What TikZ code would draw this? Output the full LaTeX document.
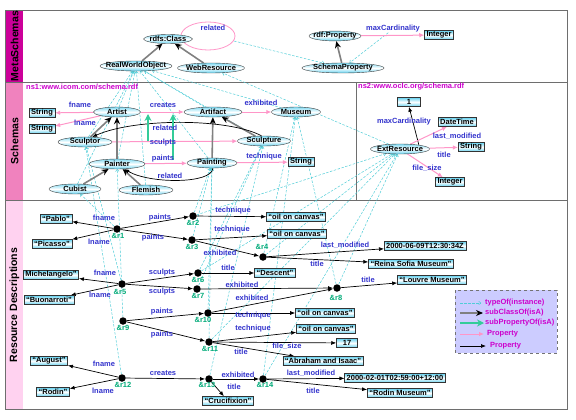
\documentclass[tikz,border=0pt]{standalone}
\usepackage{fontspec}
\setmainfont{Liberation Sans}
\usetikzlibrary{shapes.geometric,arrows.meta}
\pgfdeclarelayer{bg}
\pgfsetlayers{bg,main}
\definecolor{lblue}{RGB}{51,51,204}
\definecolor{rgreen}{RGB}{0,170,120}
\definecolor{mag}{RGB}{204,0,204}
\definecolor{ppink}{RGB}{255,150,200}
\definecolor{sgreen}{RGB}{51,204,153}
\definecolor{tcyan}{RGB}{80,205,215}
\definecolor{cyanA}{RGB}{100,210,240}
\definecolor{cyanB}{RGB}{100,210,240}
\definecolor{barM}{RGB}{204,0,153}
\definecolor{barS}{RGB}{240,130,190}
\definecolor{barR}{RGB}{255,210,240}
\definecolor{legf}{RGB}{204,204,255}
\definecolor{frm}{RGB}{110,110,110}
\newcommand\cz[1]{\makebox[0pt]{#1}}
\tikzset{
 every node/.style={font=\bfseries\fontsize{7.5}{9}\selectfont},
 cls/.style={ellipse, draw=black!75, line width=0.4pt, top color=cyanA!80, bottom color=cyanA, middle color=white, inner sep=0pt, minimum height=10pt},
 lit/.style={rectangle, draw=black!80, line width=0.5pt, top color=cyanB, bottom color=cyanB, middle color=white, inner xsep=2pt, inner ysep=0pt, minimum height=9pt},
 inst/.style={circle, fill=black, inner sep=0pt, minimum size=7.5pt},
 lbl/.style={text=lblue, inner sep=0pt},
 rl/.style={text=rgreen, inner sep=0pt},
 sect/.style={rotate=90, font=\bfseries\fontsize{10.5}{12}\selectfont, inner sep=0pt},
 ns/.style={text=mag, anchor=west, inner sep=0pt},
 leg/.style={text=mag, anchor=west, inner sep=0pt},
 prop/.style={-{Latex[length=5pt,width=4pt]}, line width=0.7pt, draw=black},
 pprop/.style={-{Latex[length=5pt,width=4.5pt]}, line width=1pt, draw=ppink},
 isa/.style={-{Stealth[length=7pt,width=6pt,color=black]}, line width=1.6pt, draw=black!50},
 subp/.style={-{Stealth[length=7pt,width=7pt]}, line width=2pt, draw=sgreen},
 typ/.style={-{To[length=2.5pt,width=4pt]}, dash pattern=on 2.5pt off 1.5pt, line width=0.5pt, draw=tcyan},
 frame/.style={draw=frm, line width=0.8pt}
}
\begin{document}
\begin{tikzpicture}[x=1pt,y=-1pt]
\useasboundingbox (0,0) rectangle (576,420);

% ---------- section labels
\node[sect] (sM) at (14.5,46) {MetaSchemas};
\node[sect] (sS) at (14.5,141) {Schemas};
\node[sect] (sR) at (14.5,305) {Resource Descriptions};
\node[ns] (ns1) at (26,87) {ns1:www.icom.com/schema.rdf};
\node[ns] (ns2) at (358,87) {ns2:www.oclc.org/schema.rdf};

% ---------- MetaSchemas
\node[cls, minimum width=49, minimum height=9] (rdfs) at (168,39) {\cz{rdfs:Class}};
\node[cls, minimum width=72] (rwo) at (136,66) {\cz{RealWorldObject}};
\node[cls, minimum width=67] (web) at (211,68) {\cz{WebResource}};
\node[cls, minimum width=52, minimum height=9] (rdfp) at (335,36) {\cz{rdf:Property}};
\node[cls, minimum width=82] (sprop) at (343,68) {\cz{SchemaProperty}};
\node[lit] (mint) at (439,35) {Integer};
\node[lbl] (lmc) at (393,29) {maxCardinality};
\node[lbl] (lrel) at (213,28) {related};
\coordinate (loopE) at (234,41);

% ---------- Schemas ns1
\node[cls, minimum width=47] (artist) at (117,112) {\cz{Artist}};
\node[lit] (str1) at (42,113) {String};
\node[lit] (str2) at (42,129) {String};
\node[cls, minimum width=54] (sculptor) at (85,142) {\cz{Sculptor}};
\node[cls, minimum width=56] (painter) at (117,164) {\cz{Painter}};
\node[cls, minimum width=52] (cubist) at (75,189) {\cz{Cubist}};
\node[cls, minimum width=54] (flemish) at (146,190) {\cz{Flemish}};
\node[cls, minimum width=58] (artifact) at (213,112) {\cz{Artifact}};
\node[cls, minimum width=49] (museum) at (296,112) {\cz{Museum}};
\node[cls, minimum width=53] (sculpture) at (264,141) {\cz{Sculpture}};
\node[cls, minimum width=50] (painting) at (212,163) {\cz{Painting}};
\node[lit] (str3) at (301,162) {String};

\node[lbl] (l1) at (80,105) {fname};
\node[lbl] (l2) at (85,123) {lname};
\node[lbl] (l3) at (163,105) {creates};
\node[lbl] (l4) at (261,103) {exhibited};
\node[lbl] (l5) at (165,128) {related};
\node[lbl] (l6) at (163,143) {sculpts};
\node[lbl] (l7) at (163,159) {paints};
\node[lbl] (l8) at (170,176) {related};
\node[lbl] (l9) at (264,157) {technique};

\coordinate (sp1a) at (148,141);
\coordinate (sp1b) at (148,114);
\coordinate (sp2a) at (173,160);
\coordinate (sp2b) at (173,114);

% ---------- Schemas ns2
\node[lit, minimum width=23] (one) at (409,102) {1};
\node[lit] (dtime) at (457,122) {DateTime};
\node[lit] (str4) at (471,147) {String};
\node[lit] (int2) at (450,182) {Integer};
\node[cls, minimum width=59] (ext) at (400,149) {\cz{ExtResource}};
\node[lbl] (l10) at (404,122) {maxCardinality};
\node[lbl] (l11) at (457,136) {last\_modified};
\node[lbl] (l12) at (444,155) {title};
\node[lbl] (l13) at (427,168) {file\_size};

% ---------- Resource Descriptions
\node[lit] (pablo) at (56,219) {“Pablo”};
\node[lit] (picasso) at (52,244) {“Picasso”};
\node[lit] (michel) at (51,275) {Michelangelo”};
\node[lit] (buon) at (49,300) {“Buonarroti”};
\node[lit] (oil1) at (296,217) {“oil on canvas”};
\node[lit] (oil2) at (297,234) {“oil on canvas”};
\node[lit] (date1) at (425,246) {2000-06-09T12:30:34Z};
\node[lit] (reina) at (411,264) {“Reina Sofia Museum”};
\node[lit] (louvre) at (432,280) {“Louvre Museum”};
\node[lit] (descent) at (275,273) {“Descent”};
\node[lit] (oil3) at (325,313) {“oil on canvas”};
\node[lit] (oil4) at (326,329) {“oil on canvas”};
\node[lit, minimum width=21] (n17) at (347,343) {17};
\node[lit] (abraham) at (323,361) {“Abraham and Isaac”};
\node[lit] (august) at (49,361) {“August”};
\node[lit] (rodin) at (53,392) {“Rodin”};
\node[lit] (cruc) at (228,401) {“Crucifixion”};
\node[lit] (date2) at (395,378) {2000-02-01T02:59:00+12:00};
\node[lit] (rmus) at (400,393) {“Rodin Museum”};

\node[inst] (r1) at (117,229) {};
\node[inst] (r2) at (193,216) {};
\node[inst] (r3) at (192,240) {};
\node[inst] (r4) at (263,257) {};
\node[inst] (r5) at (122,284) {};
\node[inst] (r6) at (198,273) {};
\node[inst] (r7) at (197,289) {};
\node[inst] (r8) at (337,288) {};
\node[inst] (r9) at (123,321) {};
\node[inst] (r10) at (208,313) {};
\node[inst] (r11) at (209,342) {};
\node[inst] (r12) at (122,378) {};
\node[inst] (r13) at (209,379) {};
\node[inst] (r14) at (263,379) {};

\node[rl] (t1) at (118,236) {\&r1};
\node[rl] (t2) at (193,223) {\&r2};
\node[rl] (t3) at (192,247) {\&r3};
\node[rl] (t4) at (262,247) {\&r4};
\node[rl] (t5) at (120,292) {\&r5};
\node[rl] (t6) at (198,280) {\&r6};
\node[rl] (t7) at (198,296) {\&r7};
\node[rl] (t8) at (336,298) {\&r8};
\node[rl] (t9) at (123,328) {\&r9};
\node[rl] (t10) at (203,320) {\&r10};
\node[rl] (t11) at (210,349) {\&r11};
\node[rl] (t12) at (123,385) {\&r12};
\node[rl] (t13) at (207,385) {\&r13};
\node[rl] (t14) at (265,385) {\&r14};

\node[lbl] (m1) at (104,218) {fname};
\node[lbl] (m2) at (99,242) {lname};
\node[lbl] (m3) at (160,218) {paints};
\node[lbl] (m4) at (153,238) {paints};
\node[lbl] (m5) at (233,211) {technique};
\node[lbl] (m6) at (232,230) {technique};
\node[lbl] (m7) at (220,253) {exhibited};
\node[lbl] (m8) at (345,245) {last\_modified};
\node[lbl] (m9) at (317,264) {title};
\node[lbl] (m10) at (105,273) {fname};
\node[lbl] (m11) at (100,295) {lname};
\node[lbl] (m12) at (162,273) {sculpts};
\node[lbl] (m13) at (162,292) {sculpts};
\node[lbl] (m14) at (228,268) {title};
\node[lbl] (m15) at (242,285) {exhibited};
\node[lbl] (m16) at (252,298) {exhibited};
\node[lbl] (m17) at (368,280) {title};
\node[lbl] (m18) at (162,312) {paints};
\node[lbl] (m19) at (162,335) {paints};
\node[lbl] (m20) at (253,316) {technique};
\node[lbl] (m21) at (253,329) {technique};
\node[lbl] (m22) at (287,346) {file\_size};
\node[lbl] (m23) at (241,352) {title};
\node[lbl] (m24) at (104,364) {fname};
\node[lbl] (m25) at (103,391) {lname};
\node[lbl] (m26) at (163,373) {creates};
\node[lbl] (m27) at (238,375) {exhibited};
\node[lbl] (m28) at (234,387) {title};
\node[lbl] (m29) at (311,373) {last\_modified};
\node[lbl] (m30) at (313,391) {title};

% ---------- legend
\node[leg] (g1) at (485,303) {typeOf(instance)};
\node[leg] (g2) at (485,313) {subClassOf(isA)};
\node[leg] (g3) at (485,323) {subPropertyOf(isA)};
\node[leg] (g4) at (487,334) {Property};
\node[leg] (g5) at (490,346) {Property};
\coordinate (a1) at (460,303); \coordinate (b1) at (481,303);
\coordinate (a2) at (460,313); \coordinate (b2) at (483,313);
\coordinate (a3) at (460,323); \coordinate (b3) at (484,323);
\coordinate (a4) at (460,334); \coordinate (b4) at (484,334);
\coordinate (a5) at (460,346); \coordinate (b5) at (486,346);

\begin{pgfonlayer}{bg}
% bars and frames
\fill[barM] (5,10) rectangle (23,82);
\fill[barS] (5,82) rectangle (23,200);
\fill[barR] (5,200) rectangle (23,409);
\draw[frame] (5,10) rectangle (567,409);
\draw[frame] (5,82) -- (567,82);
\draw[frame] (5,200) -- (567,200);
\draw[frame] (356,82) -- (356,200);
\draw[fill=legf, draw=black!55, dashed, line width=0.6pt] (455,290) rectangle (557,353);

% typeOf lines
\foreach \c in {artist,sculptor,painter,cubist,flemish,artifact,sculpture,painting,museum}
  \draw[typ] (\c) -- (rwo);
\draw[typ] (ext) -- (web);
\draw[typ] (loopE) -- (sprop);
\draw[typ] (lmc) -- (sprop);
\draw[typ] (r1) -- (cubist);
\draw[typ] (r2) -- (painting);
\draw[typ] (r3) -- (painting);
\draw[typ] (r4) -- (museum);
\draw[typ] (r4) -- (ext);
\draw[typ] (r5) -- (sculptor);
\draw[typ] (r6) -- (sculpture);
\draw[typ] (r7) -- (sculpture);
\draw[typ] (r8) -- (museum);
\draw[typ] (r8) -- (ext);
\draw[typ] (r9) -- (painter);
\draw[typ] (r10) -- (painting);
\draw[typ] (r11) -- (painting);
\draw[typ] (r11) -- (ext);
\draw[typ] (r12) -- (sculptor);
\draw[typ] (r13) -- (sculpture);
\draw[typ] (r14) -- (museum);
\draw[typ] (r14) -- (ext);
\draw[typ] (r2) -- (ext);
\draw[typ] (r6) -- (ext);

% meta
\draw[ppink, line width=0.8pt] (208,36) ellipse [x radius=27pt, y radius=14pt];
\draw[isa] (rwo) -- (rdfs);
\draw[isa] (web) -- (rdfs);
\draw[isa] (sprop) -- (rdfp);
\draw[pprop] (rdfp) -- (mint);

% schemas ns1
\draw[pprop] (artist) -- (str1);
\draw[pprop] (artist) -- (str2);
\draw[pprop] (artist) -- (artifact);
\draw[pprop] (artifact) -- (museum);
\draw[pprop] (sculptor) -- (sculpture);
\draw[pprop] (painter) -- (painting);
\draw[pprop] (painting) -- (str3);
\draw[isa] (sculptor) -- (artist);
\draw[isa] (painter) -- (artist);
\draw[isa] (cubist) -- (painter);
\draw[isa] (flemish) -- (painter);
\draw[isa] (sculpture) -- (artifact);
\draw[isa] (painting) -- (artifact);
\draw[prop] (sculpture.115) .. controls (228,118) and (135,118) .. (sculptor.35);
\draw[prop] (painting.-80) .. controls (212,184) and (150,184) .. (painter.-35);
\draw[subp] (sp1a) -- (sp1b);
\draw[subp] (sp2a) -- (sp2b);

% schemas ns2
\draw[prop] (ext.12) -- (one.south);
\draw[pprop] (ext) -- (dtime);
\draw[pprop] (ext) -- (str4);
\draw[pprop] (ext) -- (int2);

% resources
\draw[prop] (r1) -- (pablo);
\draw[prop] (r1) -- (picasso);
\draw[prop] (r1) -- (r2);
\draw[prop] (r1) -- (r3);
\draw[prop] (r2) -- (oil1);
\draw[prop] (r3) -- (oil2);
\draw[prop] (r3) -- (r4);
\draw[prop] (r4) -- (date1);
\draw[prop] (r4) -- (reina);
\draw[prop] (r5) -- (michel);
\draw[prop] (r5) -- (buon);
\draw[prop] (r5) -- (r6);
\draw[prop] (r5) -- (r7);
\draw[prop] (r6) -- (descent);
\draw[prop] (r7) -- (r8);
\draw[prop] (r8) -- (louvre);
\draw[prop] (r9) -- (r10);
\draw[prop] (r9) -- (r11);
\draw[prop] (r10) -- (oil3);
\draw[prop] (r10) -- (r8);
\draw[prop] (r11) -- (oil4);
\draw[prop] (r11) -- (n17);
\draw[prop] (r11) -- (abraham);
\draw[prop] (r12) -- (august);
\draw[prop] (r12) -- (rodin);
\draw[prop] (r12) -- (r13);
\draw[prop] (r13) -- (r14);
\draw[prop] (r13) -- (cruc);
\draw[prop] (r14) -- (date2);
\draw[prop] (r14) -- (rmus);

% legend arrows
\draw[typ] (a1) -- (b1);
\draw[isa] (a2) -- (b2);
\draw[subp] (a3) -- (b3);
\draw[pprop] (a4) -- (b4);
\draw[prop] (a5) -- (b5);
\end{pgfonlayer}
\end{tikzpicture}
\end{document}
